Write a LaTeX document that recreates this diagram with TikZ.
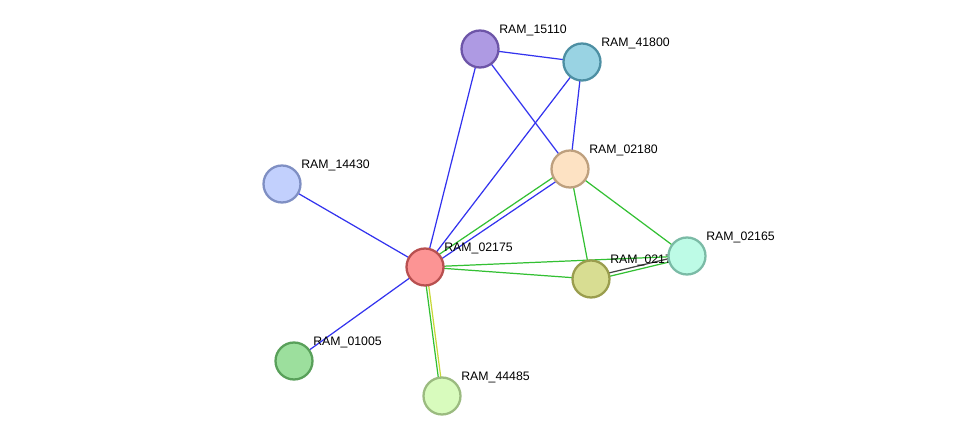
\documentclass[tikz,border=0pt]{standalone}
\usepackage{fontspec}
\setmainfont{Liberation Sans}
\usetikzlibrary{positioning}
\definecolor{eblue}{HTML}{3333EE}
\definecolor{egreen}{HTML}{33C033}
\definecolor{eyellow}{HTML}{C8D838}
\definecolor{egray}{HTML}{444444}
\definecolor{f15110}{HTML}{AE9AE3}\definecolor{d15110}{HTML}{6D55A8}
\definecolor{f41800}{HTML}{99D3E3}\definecolor{d41800}{HTML}{4D8FA3}
\definecolor{f02180}{HTML}{FDE2C3}\definecolor{d02180}{HTML}{BEA07E}
\definecolor{f14430}{HTML}{C2D0FD}\definecolor{d14430}{HTML}{7F8FC3}
\definecolor{f02175}{HTML}{FC9494}\definecolor{d02175}{HTML}{B85050}
\definecolor{f02170}{HTML}{D8DD92}\definecolor{d02170}{HTML}{9A9D4E}
\definecolor{f01005}{HTML}{9CDF9D}\definecolor{d01005}{HTML}{59A05A}
\definecolor{f44485}{HTML}{D8FBBD}\definecolor{d44485}{HTML}{9BBB80}
\definecolor{f02165}{HTML}{BDFBE6}\definecolor{d02165}{HTML}{7BBBA6}
\tikzset{
  prot/.style={circle, minimum size=0.74cm, inner sep=0pt, line width=1.3pt, fill=f#1, draw=d#1},
  lbl/.style={font=\fontsize{7}{8}\selectfont, inner sep=0pt, anchor=south west},
  ed/.style={line width=0.7pt}
}
\begin{document}
\begin{tikzpicture}[x=0.02cm,y=-0.02cm]
\useasboundingbox (0,0) rectangle (975,442);
% node positions
\coordinate (p15110) at (480,49);
\coordinate (p41800) at (582,62);
\coordinate (p02180) at (570,169);
\coordinate (p14430) at (282,184);
\coordinate (p02175) at (425,267);
\coordinate (p02170) at (591,279);
\coordinate (p02165) at (687,256);
\coordinate (p01005) at (294,361);
\coordinate (p44485) at (442,396);
% edges
\draw[ed, eblue] (p15110) -- (p41800);
\draw[ed, eblue] (p15110) -- (p02180);
\draw[ed, eblue] (p41800) -- (p02180);
\draw[ed, eblue] (p02175) -- (p15110);
\draw[ed, eblue] (p02175) -- (p41800);
\draw[ed, eblue] (p02175) -- (p14430);
\draw[ed, eblue] (p02175) -- (p01005);
\draw[ed, eblue, transform canvas={shift={(0.03cm,-0.04cm)}}] (p02175) -- (p02180);
\draw[ed, egreen, transform canvas={shift={(-0.03cm,0.04cm)}}] (p02175) -- (p02180);
\draw[ed, egreen, transform canvas={shift={(-0.025cm,0cm)}}] (p02175) -- (p44485);
\draw[ed, eyellow, transform canvas={shift={(0.025cm,0cm)}}] (p02175) -- (p44485);
\draw[ed, egreen] (p02175) -- (p02170);
\draw[ed, egreen] (p02175) -- (p02165);
\draw[ed, egreen] (p02180) -- (p02170);
\draw[ed, egreen] (p02180) -- (p02165);
\draw[ed, egray, transform canvas={shift={(0cm,0.035cm)}}] (p02170) -- (p02165);
\draw[ed, egreen, transform canvas={shift={(0cm,-0.035cm)}}] (p02170) -- (p02165);
% proteins
\foreach \id in {15110,41800,02180,14430,02175,02170,01005,44485,02165}
{
  \node[prot=\id] (n\id) at (p\id) {};
  \node[lbl] (l\id) at ([xshift=0.38cm,yshift=0.26cm]n\id) {RAM\_\id};
}
\end{tikzpicture}
\end{document}
